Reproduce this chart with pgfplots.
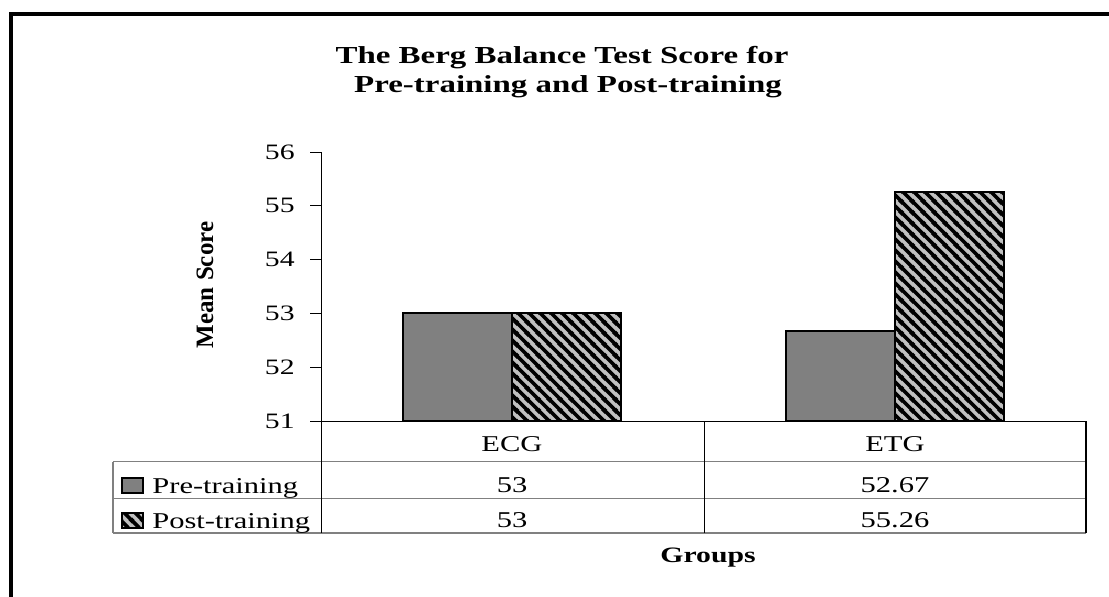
\documentclass[border=0pt]{standalone}
\usepackage{pgfplots}
\pgfplotsset{compat=1.18}
\usetikzlibrary{patterns.meta}
\usepackage{fontspec}
\setmainfont{Liberation Serif}[FakeStretch=1.35]
\newfontfamily\plainserif{Liberation Serif}
\definecolor{pregray}{RGB}{128,128,128}
\definecolor{postgray}{RGB}{192,192,192}
\definecolor{tablegray}{RGB}{128,128,128}

\tikzdeclarepattern{
  name=hatchnw,
  type=uncolored,
  bounding box={(0pt,0pt) and (5.5pt,5.5pt)},
  tile size={(5.5pt,5.5pt)},
  code={
    \draw[line width=1.9pt] (-1pt,6.5pt) -- (6.5pt,-1pt);
    \draw[line width=1.9pt] (-2pt,2pt) -- (2pt,-2pt);
    \draw[line width=1.9pt] (3.5pt,7.5pt) -- (7.5pt,3.5pt);
  }
}

\begin{document}
\begin{tikzpicture}[x=0.5pt,y=-0.5pt]
\path[use as bounding box] (0,0) rectangle (1109,596);
% frame
\draw[line width=2pt, line join=miter] (10.5,600) -- (10.5,13.5) -- (1112,13.5);

\begin{axis}[
  at={(160.5pt,-210.5pt)}, anchor=south west,
  scale only axis, width=382.5pt, height=134.5pt,
  xmin=-0.5, xmax=1.5, ymin=51, ymax=56,
  ybar=0pt, bar width=54.5pt,
  axis x line*=bottom, axis y line*=left,
  axis line style={-, black, line width=0.5pt},
  xtick=\empty, ytick={51,52,53,54,55,56},
  tick align=outside, major tick length=5.5pt,
  tick style={black, line width=0.5pt},
  /pgf/number format/assume math mode=true,
  yticklabel style={font=\fontsize{11}{13}\selectfont, anchor=east, inner sep=0pt, xshift=-7.5pt},
]
\addplot[draw=black, line width=1pt, fill=pregray] coordinates {(0,53) (1,52.67)};
\addplot[draw=black, line width=1pt, preaction={fill=postgray}, pattern=hatchnw, pattern color=black] coordinates {(0,53) (1,55.26)};
\end{axis}

% data table
\draw[tablegray, line width=0.8pt] (113,461.5) -- (1086,461.5);
\draw[tablegray, line width=0.8pt] (113,498.5) -- (1086,498.5);
\draw[tablegray, line width=0.8pt] (113,533) -- (1086,533);
\draw[tablegray, line width=0.8pt] (113,461.5) -- (113,533);
\draw[black, line width=0.5pt] (321,421) -- (321,533);
\draw[black, line width=0.5pt] (704,421) -- (704,533);
\draw[black, line width=0.6pt] (1086,421) -- (1086,533);

\begin{scope}[every node/.style={font=\fontsize{11.3}{13}\selectfont, inner sep=0pt}]
\node[anchor=base] at (512,451) {ECG};
\node[anchor=base] at (895,451) {ETG};
\node[anchor=base] at (512,492) {53};
\node[anchor=base] at (895,492) {52.67};
\node[anchor=base] at (512,527) {53};
\node[anchor=base] at (895,527) {55.26};
\node[anchor=base west] at (152,493) {Pre-training};
\node[anchor=base west] at (152,528) {Post-training};
\end{scope}
\draw[black, line width=0.8pt, fill=pregray] (122,478) rectangle (143,493);
\draw[black, line width=0.8pt, preaction={fill=postgray}, pattern=hatchnw, pattern color=black] (122,513) rectangle (143,528);

% labels
\node[rotate=90, inner sep=0pt, font=\plainserif\bfseries\fontsize{12.5}{14}\selectfont] at (205,285) {Mean Score};
\node[anchor=base, inner sep=0pt, font=\bfseries\fontsize{12.2}{14}\selectfont] at (562,63) {The Berg Balance Test Score for};
\node[anchor=base, inner sep=0pt, font=\bfseries\fontsize{12.2}{14}\selectfont] at (568,92) {Pre-training and Post-training};
\node[anchor=base, inner sep=0pt, font=\bfseries\fontsize{11}{13}\selectfont] at (708,562) {Groups};
\end{tikzpicture}
\end{document}
